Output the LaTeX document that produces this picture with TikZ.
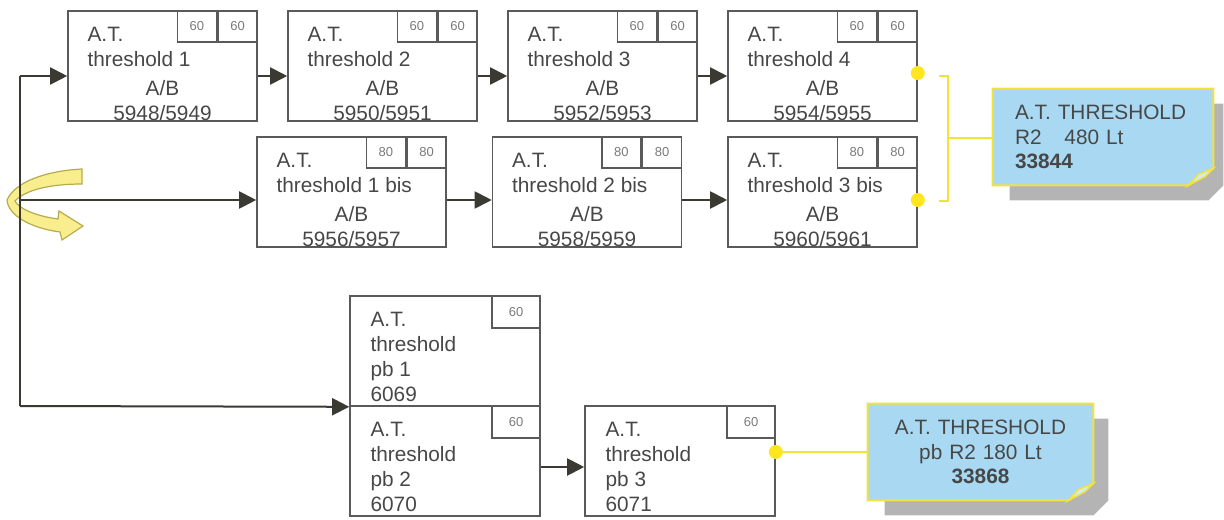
\documentclass[tikz,border=0pt]{standalone}
\usepackage{fontspec}
\setmainfont{Liberation Sans}
\usetikzlibrary{arrows.meta}

\pgfdeclarelayer{background}
\pgfsetlayers{background,main}

\definecolor{boxgray}{HTML}{5A5A5A}
\definecolor{txtgray}{HTML}{474747}
\definecolor{cellgray}{HTML}{7A7A7A}
\definecolor{arrowdark}{HTML}{3A3A32}
\definecolor{dotyellow}{HTML}{FFE61E}
\definecolor{lineyellow}{HTML}{F2E23C}
\definecolor{noteblue}{HTML}{A9D9F2}
\definecolor{shadowgray}{HTML}{B4B4B4}
\definecolor{turnfill}{HTML}{F9EE8E}
\definecolor{turndraw}{HTML}{B8AA4E}

\newcommand{\rowone}{5948/5949, 5950/5951, 5952/5953, 5954/5955}
\newcommand{\rowtwo}{5956/5957, 5958/5959, 5960/5961}

\tikzset{
    atbox/.style={draw=boxgray, line width=0.8pt, minimum width=94.5pt, minimum height=55pt, inner sep=0pt},
    cell/.style={draw=boxgray, line width=0.8pt, minimum width=19.5pt, minimum height=15.5pt, inner sep=0pt,
        anchor=north east, text=cellgray, font=\fontsize{6.5}{7}\selectfont},
    bigcell/.style={cell, minimum width=24pt, minimum height=16pt},
    lines/.style={inner sep=0pt, text=txtgray, font=\fontsize{10.4}{12.4}\selectfont},
    conn/.style={draw=arrowdark, line width=1pt},
    arr/.style={conn, -{Triangle[length=8.5pt,width=8.5pt]}},
    yel/.style={draw=lineyellow, line width=1pt},
    note/.style={minimum height=48pt, inner xsep=11pt, inner ysep=0pt,
        text=txtgray, font=\fontsize{10.4}{12.4}\selectfont},
    notebody/.style={fill=noteblue, draw=lineyellow, line width=1pt},
    fold/.style={fill=noteblue!50!white, draw=lineyellow, line width=0.8pt},
    turnarrow/.style={fill=turnfill, draw=turndraw, line width=0.6pt}
}

\begin{document}
\begin{tikzpicture}[x=0.5pt, y=-0.5pt]
    \useasboundingbox (0,0) rectangle (1224,519);

    % Yellow turn arrow
    \filldraw[turnarrow] (82,169) .. controls (45,171) and (15,182) .. (7,200)
        .. controls (8,215) and (30,228) .. (60,232) -- (62,240) -- (83,226) -- (59,211) -- (58,219)
        .. controls (35,216) and (18,208) .. (15,201)
        .. controls (25,190) and (50,184) .. (82,184) -- cycle;

    % First row
    \foreach [count=\i] \a/\b in \rowone{
        \node[atbox] (t\i) at ({162.5+(\i-1)*220},66) {};
        \node[cell] (tc\i) at (t\i.north east) {60};
        \node[cell] (td\i) at (tc\i.north west) {60};
        \node[lines, anchor=north west, align=left] (tt\i) at ([shift={(20,17)}]t\i.north west) {A.T.\\threshold \i};
        \node[lines, anchor=south, align=center] (tn\i) at ([yshift=0.3pt]t\i.south) {A/B\\\a/\b};
    }

    % Second row (bis)
    \foreach [count=\i] \a/\b in \rowtwo{
        \node[atbox] (tb\i) at ({351.5+(\i-1)*235.5},192) {};
        \node[cell] (bc\i) at (tb\i.north east) {80};
        \node[cell] (bd\i) at (bc\i.north west) {80};
        \node[lines, anchor=north west, align=left] (bt\i) at ([shift={(20,17)}]tb\i.north west) {A.T.\\threshold \i{} bis};
        \node[lines, anchor=south, align=center] (bn\i) at ([yshift=0.3pt]tb\i.south) {A/B\\\a/\b};
    }

    % pb boxes
    \node[atbox, minimum width=95pt] (pb1) at (445,351) {};
    \node[atbox, minimum width=95pt] (pb2) at (445,461) {};
    \node[atbox, minimum width=95pt] (pb3) at (680,461) {};
    \foreach \i/\n in {1/6069, 2/6070, 3/6071}{
        \node[bigcell] (pc\i) at (pb\i.north east) {60};
        \node[lines, anchor=north west, align=left] (pt\i) at ([shift={(21,17)}]pb\i.north west) {A.T.\\threshold\\pb \i\\\n};
    }

    % Notes
    \node[note, minimum width=110pt, text width=88pt, align=left] (n1) at (1103,137) {A.T. THRESHOLD\\R2\hspace{1.1em}480 Lt\\\textbf{33844}};
    \node[note, minimum width=112.5pt, text width=90.5pt, align=center] (n2) at (980.5,452) {A.T. THRESHOLD\\pb R2 180 Lt\\\textbf{33868}};
    \begin{pgfonlayer}{background}
        \foreach \n/\r in {n1/10, n2/15}{
            \fill[shadowgray] ([shift={(17,15)}]\n.north west) -- ([shift={(\r,15)}]\n.north east)
                -- ([shift={(\r,0)}]\n.south east) -- ([shift={({\r-15},15)}]\n.south east)
                -- ([shift={(17,15)}]\n.south west) -- cycle;
            \filldraw[notebody] (\n.north west) -- (\n.north east) -- ([yshift=8.5pt]\n.south east)
                -- ([xshift=-12.5pt]\n.south east) -- (\n.south west) -- cycle;
        }
    \end{pgfonlayer}
    \foreach \n in {n1, n2}{
        \filldraw[fold] ([shift={(-25,0)}]\n.south east) -- ([shift={(-15,-11)}]\n.south east)
            -- ([shift={(0,-17)}]\n.south east) -- ([shift={(-8,-9)}]\n.south east) -- cycle;
    }

    % Connectors
    \coordinate (lft) at (20,76);
    \coordinate (lfm) at (20,200);
    \coordinate (lfb) at (20,406);
    \draw[conn] (lft) -- (lfb);
    \draw[arr] (lft) -- (lft -| t1.west);
    \draw[arr] (lfm) -- (lfm -| tb1.west);
    \draw[arr] (lfb) -- (pb1.south west);
    \foreach \i/\j in {1/2, 2/3, 3/4}{
        \draw[arr] ([yshift=-5pt]t\i.east) -- ([yshift=-5pt]t\j.west);
    }
    \foreach \i/\j in {1/2, 2/3}{
        \draw[arr] ([yshift=-4pt]tb\i.east) -- ([yshift=-4pt]tb\j.west);
    }
    \draw[arr] ([yshift=-3pt]pb2.east) -- ([yshift=-3pt]pb3.west);

    % Yellow links to the notes
    \coordinate (brtop) at (939,76);
    \coordinate (brbot) at (939,201);
    \coordinate (brmid) at (948,138);
    \draw[yel] (brtop) -- ++(9,0) -- ++(0,125) -- (brbot);
    \draw[yel] (brmid) -- (brmid -| n1.west);
    \draw[yel] ([yshift=4.5pt]pb3.east) -- (n2.west);
    \fill[dotyellow] ([yshift=-3.5pt]t4.east) circle (3.5pt);
    \fill[dotyellow] ([yshift=-4pt]tb3.east) circle (3.5pt);
    \fill[dotyellow] ([yshift=4.5pt]pb3.east) circle (3.5pt);
\end{tikzpicture}
\end{document}
